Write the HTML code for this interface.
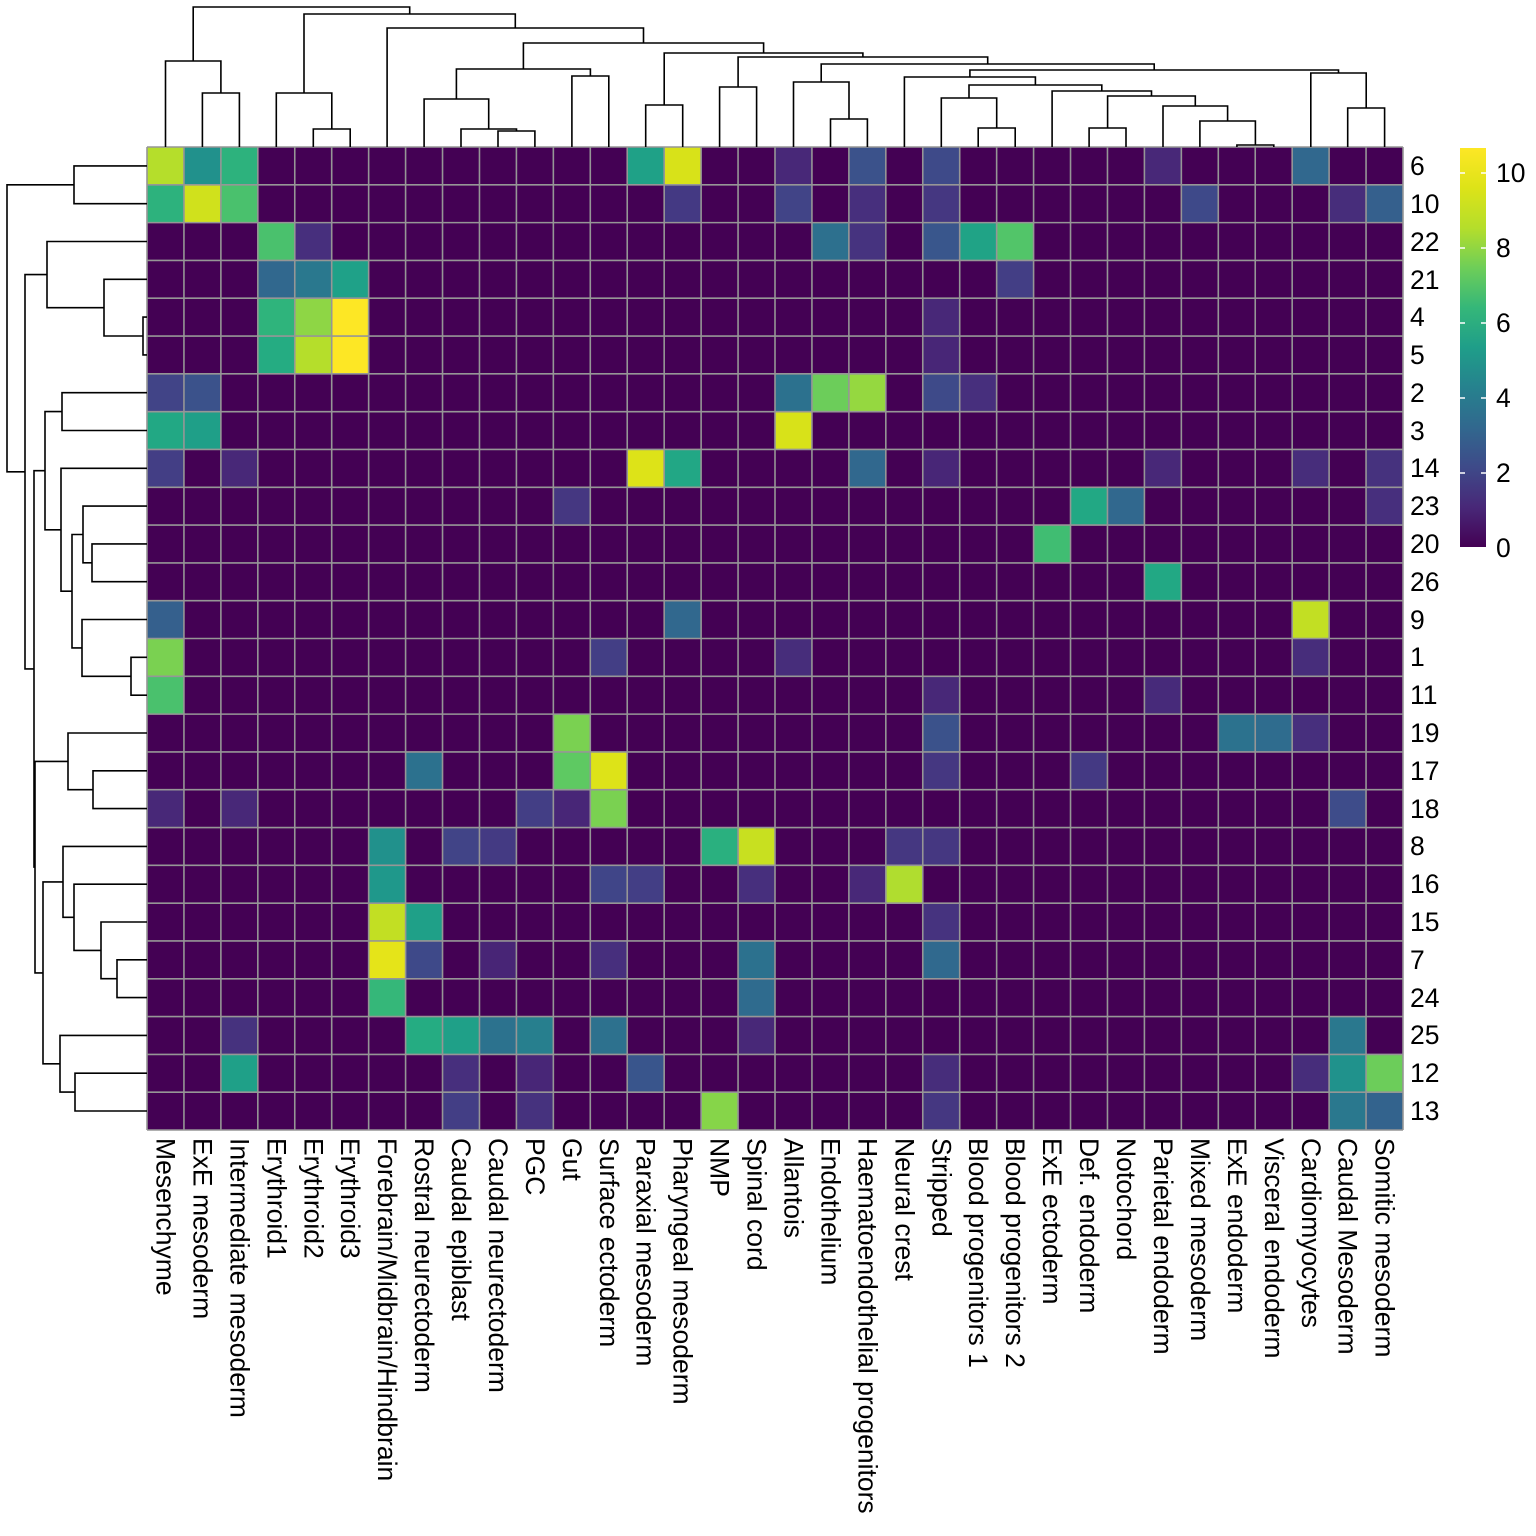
<!DOCTYPE html>
<html><head><meta charset="utf-8"><style>html,body{margin:0;padding:0;background:#fff}svg{display:block}text{font-family:"Liberation Sans",sans-serif;font-size:26.5px;fill:#000}</style></head><body>
<svg width="1536" height="1536" viewBox="0 0 1536 1536" xmlns="http://www.w3.org/2000/svg">
<defs><linearGradient id="vg" x1="0" y1="1" x2="0" y2="0">
<stop offset="0" stop-color="#440154"/><stop offset="0.1" stop-color="#482878"/><stop offset="0.2" stop-color="#3e4a89"/><stop offset="0.3" stop-color="#31688e"/><stop offset="0.4" stop-color="#26828e"/><stop offset="0.5" stop-color="#1f9e89"/><stop offset="0.6" stop-color="#35b779"/><stop offset="0.7" stop-color="#6ece58"/><stop offset="0.8" stop-color="#b5de2b"/><stop offset="0.9" stop-color="#dde318"/><stop offset="1" stop-color="#fde725"/></linearGradient></defs>
<g transform="translate(147,147) scale(36.941,37.808)">
<rect x="0" y="0" width="34" height="26" fill="#440154"/>
<g shape-rendering="crispEdges">
<rect x="0" y="0" width="1" height="1" fill="#b5de2b"/><rect x="1" y="0" width="1" height="1" fill="#21918c"/><rect x="2" y="0" width="1" height="1" fill="#2db27d"/><rect x="13" y="0" width="1" height="1" fill="#1fa187"/><rect x="14" y="0" width="1" height="1" fill="#d8e219"/><rect x="17" y="0" width="1" height="1" fill="#482878"/><rect x="19" y="0" width="1" height="1" fill="#3b528b"/><rect x="21" y="0" width="1" height="1" fill="#3e4a89"/><rect x="27" y="0" width="1" height="1" fill="#482878"/><rect x="31" y="0" width="1" height="1" fill="#31688e"/>
<rect x="0" y="1" width="1" height="1" fill="#2db27d"/><rect x="1" y="1" width="1" height="1" fill="#d0e11c"/><rect x="2" y="1" width="1" height="1" fill="#4ac16d"/><rect x="14" y="1" width="1" height="1" fill="#443983"/><rect x="17" y="1" width="1" height="1" fill="#414487"/><rect x="19" y="1" width="1" height="1" fill="#472f7d"/><rect x="21" y="1" width="1" height="1" fill="#453781"/><rect x="28" y="1" width="1" height="1" fill="#3e4989"/><rect x="32" y="1" width="1" height="1" fill="#472d7b"/><rect x="33" y="1" width="1" height="1" fill="#35608d"/>
<rect x="3" y="2" width="1" height="1" fill="#4ac16d"/><rect x="4" y="2" width="1" height="1" fill="#472f7d"/><rect x="18" y="2" width="1" height="1" fill="#2d708e"/><rect x="19" y="2" width="1" height="1" fill="#46337f"/><rect x="21" y="2" width="1" height="1" fill="#39568c"/><rect x="22" y="2" width="1" height="1" fill="#20a386"/><rect x="23" y="2" width="1" height="1" fill="#52c569"/>
<rect x="3" y="3" width="1" height="1" fill="#31688e"/><rect x="4" y="3" width="1" height="1" fill="#2a788e"/><rect x="5" y="3" width="1" height="1" fill="#1fa188"/><rect x="23" y="3" width="1" height="1" fill="#433e85"/>
<rect x="3" y="4" width="1" height="1" fill="#2fb47c"/><rect x="4" y="4" width="1" height="1" fill="#8ed645"/><rect x="5" y="4" width="1" height="1" fill="#fde725"/><rect x="21" y="4" width="1" height="1" fill="#482878"/>
<rect x="3" y="5" width="1" height="1" fill="#25ac82"/><rect x="4" y="5" width="1" height="1" fill="#b5de2b"/><rect x="5" y="5" width="1" height="1" fill="#fde725"/><rect x="21" y="5" width="1" height="1" fill="#482677"/>
<rect x="0" y="6" width="1" height="1" fill="#414487"/><rect x="1" y="6" width="1" height="1" fill="#3b528b"/><rect x="17" y="6" width="1" height="1" fill="#2c718e"/><rect x="18" y="6" width="1" height="1" fill="#6ccd5a"/><rect x="19" y="6" width="1" height="1" fill="#95d840"/><rect x="21" y="6" width="1" height="1" fill="#3e4a89"/><rect x="22" y="6" width="1" height="1" fill="#472f7d"/>
<rect x="0" y="7" width="1" height="1" fill="#22a884"/><rect x="1" y="7" width="1" height="1" fill="#1f9f88"/><rect x="17" y="7" width="1" height="1" fill="#d8e219"/>
<rect x="0" y="8" width="1" height="1" fill="#433e85"/><rect x="2" y="8" width="1" height="1" fill="#482878"/><rect x="13" y="8" width="1" height="1" fill="#dde318"/><rect x="14" y="8" width="1" height="1" fill="#22a785"/><rect x="19" y="8" width="1" height="1" fill="#31688e"/><rect x="21" y="8" width="1" height="1" fill="#482677"/><rect x="27" y="8" width="1" height="1" fill="#482878"/><rect x="31" y="8" width="1" height="1" fill="#472d7b"/><rect x="33" y="8" width="1" height="1" fill="#46327e"/>
<rect x="11" y="9" width="1" height="1" fill="#453781"/><rect x="25" y="9" width="1" height="1" fill="#22a884"/><rect x="26" y="9" width="1" height="1" fill="#31688e"/><rect x="33" y="9" width="1" height="1" fill="#472f7d"/>
<rect x="24" y="10" width="1" height="1" fill="#40bd72"/>
<rect x="27" y="11" width="1" height="1" fill="#22a884"/>
<rect x="0" y="12" width="1" height="1" fill="#35608d"/><rect x="14" y="12" width="1" height="1" fill="#31688e"/><rect x="31" y="12" width="1" height="1" fill="#c2df23"/>
<rect x="0" y="13" width="1" height="1" fill="#7ad151"/><rect x="12" y="13" width="1" height="1" fill="#433e85"/><rect x="17" y="13" width="1" height="1" fill="#472d7b"/><rect x="31" y="13" width="1" height="1" fill="#472d7b"/>
<rect x="0" y="14" width="1" height="1" fill="#4ac16d"/><rect x="21" y="14" width="1" height="1" fill="#482878"/><rect x="27" y="14" width="1" height="1" fill="#472a7a"/>
<rect x="11" y="15" width="1" height="1" fill="#7ad151"/><rect x="21" y="15" width="1" height="1" fill="#3b528b"/><rect x="29" y="15" width="1" height="1" fill="#2c728e"/><rect x="30" y="15" width="1" height="1" fill="#2f6c8e"/><rect x="31" y="15" width="1" height="1" fill="#472f7d"/>
<rect x="7" y="16" width="1" height="1" fill="#2c718e"/><rect x="11" y="16" width="1" height="1" fill="#5ec962"/><rect x="12" y="16" width="1" height="1" fill="#dde318"/><rect x="21" y="16" width="1" height="1" fill="#453781"/><rect x="25" y="16" width="1" height="1" fill="#443983"/>
<rect x="0" y="17" width="1" height="1" fill="#482878"/><rect x="2" y="17" width="1" height="1" fill="#482878"/><rect x="10" y="17" width="1" height="1" fill="#433e85"/><rect x="11" y="17" width="1" height="1" fill="#482677"/><rect x="12" y="17" width="1" height="1" fill="#7ad151"/><rect x="32" y="17" width="1" height="1" fill="#3e4c8a"/>
<rect x="6" y="18" width="1" height="1" fill="#21918c"/><rect x="8" y="18" width="1" height="1" fill="#414487"/><rect x="9" y="18" width="1" height="1" fill="#443a83"/><rect x="15" y="18" width="1" height="1" fill="#2ab07f"/><rect x="16" y="18" width="1" height="1" fill="#c8e020"/><rect x="20" y="18" width="1" height="1" fill="#453781"/><rect x="21" y="18" width="1" height="1" fill="#453781"/>
<rect x="6" y="19" width="1" height="1" fill="#1f988b"/><rect x="12" y="19" width="1" height="1" fill="#404588"/><rect x="13" y="19" width="1" height="1" fill="#433e85"/><rect x="16" y="19" width="1" height="1" fill="#472f7d"/><rect x="19" y="19" width="1" height="1" fill="#482878"/><rect x="20" y="19" width="1" height="1" fill="#b0dd2f"/>
<rect x="6" y="20" width="1" height="1" fill="#c2df23"/><rect x="7" y="20" width="1" height="1" fill="#1fa088"/><rect x="21" y="20" width="1" height="1" fill="#46337f"/>
<rect x="6" y="21" width="1" height="1" fill="#e5e419"/><rect x="7" y="21" width="1" height="1" fill="#3e4989"/><rect x="9" y="21" width="1" height="1" fill="#482576"/><rect x="12" y="21" width="1" height="1" fill="#472f7d"/><rect x="16" y="21" width="1" height="1" fill="#2c718e"/><rect x="21" y="21" width="1" height="1" fill="#30698e"/>
<rect x="6" y="22" width="1" height="1" fill="#35b779"/><rect x="16" y="22" width="1" height="1" fill="#2f6b8e"/>
<rect x="2" y="23" width="1" height="1" fill="#46327e"/><rect x="7" y="23" width="1" height="1" fill="#25ac82"/><rect x="8" y="23" width="1" height="1" fill="#1fa088"/><rect x="9" y="23" width="1" height="1" fill="#2c728e"/><rect x="10" y="23" width="1" height="1" fill="#277f8e"/><rect x="12" y="23" width="1" height="1" fill="#2d718e"/><rect x="16" y="23" width="1" height="1" fill="#482878"/><rect x="32" y="23" width="1" height="1" fill="#2a788e"/>
<rect x="2" y="24" width="1" height="1" fill="#1fa088"/><rect x="8" y="24" width="1" height="1" fill="#472f7d"/><rect x="10" y="24" width="1" height="1" fill="#482677"/><rect x="13" y="24" width="1" height="1" fill="#39558c"/><rect x="21" y="24" width="1" height="1" fill="#472d7b"/><rect x="31" y="24" width="1" height="1" fill="#472d7b"/><rect x="32" y="24" width="1" height="1" fill="#20928c"/><rect x="33" y="24" width="1" height="1" fill="#6ccd5a"/>
<rect x="8" y="25" width="1" height="1" fill="#433e85"/><rect x="10" y="25" width="1" height="1" fill="#46327e"/><rect x="15" y="25" width="1" height="1" fill="#86d549"/><rect x="21" y="25" width="1" height="1" fill="#453781"/><rect x="32" y="25" width="1" height="1" fill="#2a788e"/><rect x="33" y="25" width="1" height="1" fill="#33638d"/>
</g>
<path fill="none" stroke="#969696" stroke-width="1.6" vector-effect="non-scaling-stroke" d="M0 0V26M1 0V26M2 0V26M3 0V26M4 0V26M5 0V26M6 0V26M7 0V26M8 0V26M9 0V26M10 0V26M11 0V26M12 0V26M13 0V26M14 0V26M15 0V26M16 0V26M17 0V26M18 0V26M19 0V26M20 0V26M21 0V26M22 0V26M23 0V26M24 0V26M25 0V26M26 0V26M27 0V26M28 0V26M29 0V26M30 0V26M31 0V26M32 0V26M33 0V26M34 0V26M0 0H34M0 1H34M0 2H34M0 3H34M0 4H34M0 5H34M0 6H34M0 7H34M0 8H34M0 9H34M0 10H34M0 11H34M0 12H34M0 13H34M0 14H34M0 15H34M0 16H34M0 17H34M0 18H34M0 19H34M0 20H34M0 21H34M0 22H34M0 23H34M0 24H34M0 25H34M0 26H34"/>
</g>
<g fill="none" stroke="#000" stroke-width="1.6">
<path d="M202.4 147V93H239.4V147M165.5 147V61H220.9V93M313.3 147V129H350.2V147M276.3 147V93H331.8V129M498 147V131H534.9V147M461 147V129H516.5V131M424.1 147V99H488.7V129M571.9 147V76H608.8V147M456.4 99V69H590.4V76M645.7 147V105H682.7V147M719.6 147V87H756.6V147M830.5 147V119H867.4V147M793.5 147V82H849V119M978.2 147V128H1015.2V147M941.3 147V98H996.7V128M1089.1 147V128H1126V147M1236.9 147V145H1273.8V147M1199.9 147V121H1255.4V145M1163 147V106H1227.6V121M1107.6 128V96H1195.3V106M1052.1 147V91H1151.5V96M969 98V85H1101.8V91M904.4 147V77H1035.4V85M1347.7 147V108H1384.6V147M1310.8 147V73H1366.2V108M969.9 77V70H1338.5V73M821.2 82V64H1154.2V70M738.1 87V57H987.7V64M664.2 105V53H862.9V57M523.4 69V43H763.6V53M387.1 147V28H643.5V43M304 93V14H515.3V28M193.2 61V7H409.7V14"/>
<path d="M147 165.9H74V203.7H147M147 317.1H143V354.9H147M147 279.3H104V336H143M147 241.5H47V307.7H104M147 392.7H62V430.5H147M147 543.9H92V581.7H147M147 506.1H83V562.8H92M147 657.3H131V695.2H147M147 619.5H82V676.3H131M83 534.5H72V647.9H82M147 468.3H61V591.2H72M62 411.6H45V529.8H61M147 770.8H93V808.6H147M147 733H68V789.7H93M147 959.8H117V997.6H147M147 922H101V978.7H117M147 884.2H74V950.4H101M147 846.4H63V917.3H74M147 1073.2H75V1111H147M147 1035.4H60V1092.1H75M63 881.9H43V1063.8H60M68 761.4H35V972.9H43M45 470.7H34V867.1H35M47 274.6H25V668.9H34M74 184.8H7V471.8H25"/>
</g>
<g dominant-baseline="central">
<text x="1410" y="166">6</text><text x="1410" y="204">10</text><text x="1410" y="242">22</text><text x="1410" y="280">21</text><text x="1410" y="317">4</text><text x="1410" y="355">5</text><text x="1410" y="393">2</text><text x="1410" y="431">3</text><text x="1410" y="468">14</text><text x="1410" y="506">23</text><text x="1410" y="544">20</text><text x="1410" y="582">26</text><text x="1410" y="620">9</text><text x="1410" y="657">1</text><text x="1410" y="695">11</text><text x="1410" y="733">19</text><text x="1410" y="771">17</text><text x="1410" y="809">18</text><text x="1410" y="846">8</text><text x="1410" y="884">16</text><text x="1410" y="922">15</text><text x="1410" y="960">7</text><text x="1410" y="998">24</text><text x="1410" y="1035">25</text><text x="1410" y="1073">12</text><text x="1410" y="1111">13</text>
</g>
<g dominant-baseline="central">
<text transform="translate(165.5,1138) rotate(90)">Mesenchyme</text>
<text transform="translate(202.4,1138) rotate(90)">ExE mesoderm</text>
<text transform="translate(239.4,1138) rotate(90)">Intermediate mesoderm</text>
<text transform="translate(276.3,1138) rotate(90)">Erythroid1</text>
<text transform="translate(313.3,1138) rotate(90)">Erythroid2</text>
<text transform="translate(350.2,1138) rotate(90)">Erythroid3</text>
<text transform="translate(387.1,1138) rotate(90)">Forebrain/Midbrain/Hindbrain</text>
<text transform="translate(424.1,1138) rotate(90)">Rostral neurectoderm</text>
<text transform="translate(461,1138) rotate(90)">Caudal epiblast</text>
<text transform="translate(498,1138) rotate(90)">Caudal neurectoderm</text>
<text transform="translate(534.9,1138) rotate(90)">PGC</text>
<text transform="translate(571.9,1138) rotate(90)">Gut</text>
<text transform="translate(608.8,1138) rotate(90)">Surface ectoderm</text>
<text transform="translate(645.7,1138) rotate(90)">Paraxial mesoderm</text>
<text transform="translate(682.7,1138) rotate(90)">Pharyngeal mesoderm</text>
<text transform="translate(719.6,1138) rotate(90)">NMP</text>
<text transform="translate(756.6,1138) rotate(90)">Spinal cord</text>
<text transform="translate(793.5,1138) rotate(90)">Allantois</text>
<text transform="translate(830.5,1138) rotate(90)">Endothelium</text>
<text transform="translate(867.4,1138) rotate(90)">Haematoendothelial progenitors</text>
<text transform="translate(904.4,1138) rotate(90)">Neural crest</text>
<text transform="translate(941.3,1138) rotate(90)">Stripped</text>
<text transform="translate(978.2,1138) rotate(90)">Blood progenitors 1</text>
<text transform="translate(1015.2,1138) rotate(90)">Blood progenitors 2</text>
<text transform="translate(1052.1,1138) rotate(90)">ExE ectoderm</text>
<text transform="translate(1089.1,1138) rotate(90)">Def. endoderm</text>
<text transform="translate(1126,1138) rotate(90)">Notochord</text>
<text transform="translate(1163,1138) rotate(90)">Parietal endoderm</text>
<text transform="translate(1199.9,1138) rotate(90)">Mixed mesoderm</text>
<text transform="translate(1236.9,1138) rotate(90)">ExE endoderm</text>
<text transform="translate(1273.8,1138) rotate(90)">Visceral endoderm</text>
<text transform="translate(1310.8,1138) rotate(90)">Cardiomyocytes</text>
<text transform="translate(1347.7,1138) rotate(90)">Caudal Mesoderm</text>
<text transform="translate(1384.6,1138) rotate(90)">Somitic mesoderm</text>
</g>
<rect x="1460" y="148" width="26" height="399" fill="url(#vg)"/>
<g dominant-baseline="central">
<text x="1496" y="173">10</text><text x="1496" y="248">8</text><text x="1496" y="323">6</text><text x="1496" y="398">4</text><text x="1496" y="473">2</text><text x="1496" y="548">0</text>
</g>
<g stroke="#fff" stroke-width="1.5"><path d="M1460 173H1465M1481 173H1486M1460 248H1465M1481 248H1486M1460 323H1465M1481 323H1486M1460 398H1465M1481 398H1486M1460 473H1465M1481 473H1486"/></g>
</svg>
</body></html>
